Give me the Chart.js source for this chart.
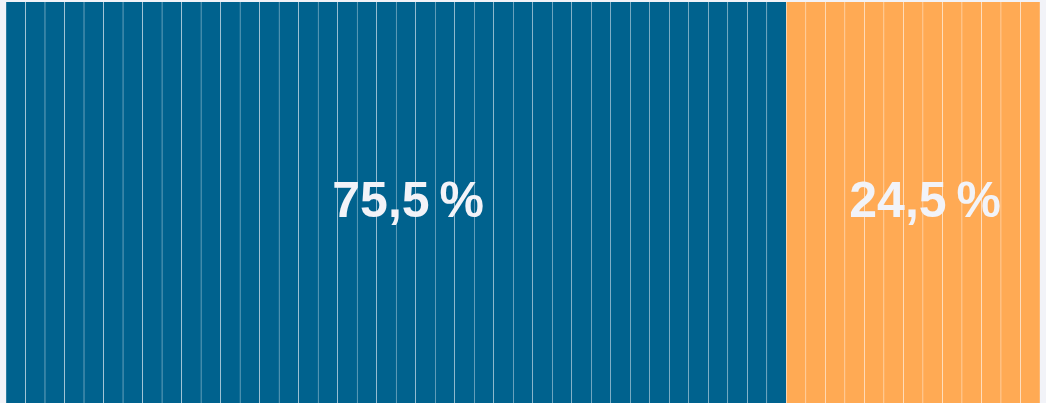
<!DOCTYPE html>
<html>
<head>
<meta charset="utf-8">
<script src="https://cdn.jsdelivr.net/npm/chart.js@4/dist/chart.umd.min.js"></script>
<style>
  html, body { margin: 0; padding: 0; background: #f2f3f8; }
  #wrap { width: 1046px; height: 403px; }
</style>
</head>
<body>
<div id="wrap"><canvas id="share-chart"></canvas></div>
<script>
// 53 units, each one is a stripe
var groups = ["A", "B"];
var groupCounts = [40, 13];
var groupLabels = ["75,5\u2009%", "24,5\u2009%"];
var groupColors = ["#00628e", "#ffaa54"];

var labels = [];
var values = [];
var colors = [];
for (let g = 0; g < groups.length; g++) {
  for (let i = 0; i < groupCounts[g]; i++) {
    labels.push(groups[g] + (i + 1));
    values.push(1);
    colors.push(groupColors[g]);
  }
}

var groupText = {
  id: 'groupText',
  afterDatasetsDraw: function(chart) {
    let ctx = chart.ctx;
    let meta = chart.getDatasetMeta(0);
    let start = 0;
    ctx.save();
    ctx.fillStyle = '#f2f3f8';
    ctx.font = 'bold 50px "Liberation Sans", Arial, sans-serif';
    ctx.textAlign = 'center';
    ctx.textBaseline = 'middle';
    for (let g = 0; g < groupCounts.length; g++) {
      let first = meta.data[start];
      let last = meta.data[start + groupCounts[g] - 1];
      let x0 = first.x - first.width / 2;
      let x1 = last.x + last.width / 2;
      let cx = (x0 + x1) / 2 + 12;
      let cy = (chart.chartArea.top + chart.chartArea.bottom) / 2 + 1;
      ctx.fillText(groupLabels[g], cx, cy);
      start += groupCounts[g];
    }
    ctx.restore();
  }
};

new Chart(document.getElementById("share-chart"), {
  type: 'bar',
  data: {
    labels: labels,
    datasets: [{
      data: values,
      backgroundColor: colors,
      borderColor: 'rgba(255,255,255,0.75)',
      borderWidth: { left: 0.5, right: 0.5, top: 0, bottom: 0 },
      borderSkipped: false,
      barPercentage: 1,
      categoryPercentage: 1
    }]
  },
  options: {
    responsive: true,
    maintainAspectRatio: false,
    animation: false,
    layout: { padding: { left: 6, right: 6, top: 2, bottom: 0 } },
    plugins: {
      legend: { display: false },
      tooltip: { enabled: false }
    },
    scales: {
      x: { display: false },
      y: { display: false, min: 0, max: 1 }
    }
  },
  plugins: [groupText]
});
</script>
</body>
</html>
